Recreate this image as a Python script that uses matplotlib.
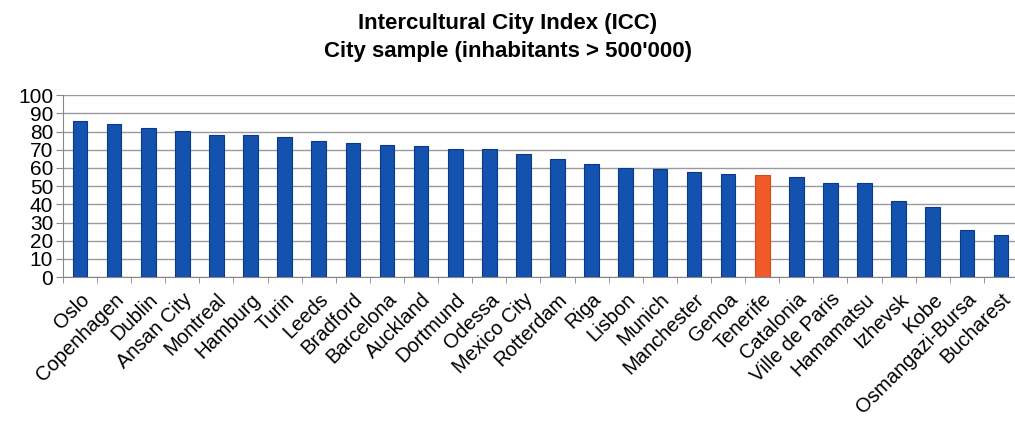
import numpy as np
import matplotlib.pyplot as plt

plt.rcParams['font.family'] = ['Liberation Sans', 'DejaVu Sans']

cities = ['Oslo', 'Copenhagen', 'Dublin', 'Ansan City', 'Montreal', 'Hamburg', 'Turin',
          'Leeds', 'Bradford', 'Barcelona', 'Auckland', 'Dortmund', 'Odessa', 'Mexico City',
          'Rotterdam', 'Riga', 'Lisbon', 'Munich', 'Manchester', 'Genoa', 'Tenerife',
          'Catalonia', 'Ville de Paris', 'Hamamatsu', 'Izhevsk', 'Kobe', 'Osmangazi-Bursa',
          'Bucharest']
icc = [85.7, 83.9, 81.7, 80.2, 78.3, 78.3, 76.9, 75.0, 73.6, 72.7, 72.1, 70.6, 70.3, 67.9,
       65.0, 62.0, 59.8, 59.4, 57.8, 56.7, 56.1, 55.2, 51.9, 51.9, 41.8, 38.5, 26.1, 23.1]
highlight = 'Tenerife'

fig = plt.figure(figsize=(10.15, 4.25), dpi=100)
ax = fig.add_axes([0.062, 0.348, 0.941, 0.428])

x = np.arange(len(cities))
colors = ['#F05A28' if c == highlight else '#1352AE' for c in cities]
edges = ['#D9481C' if c == highlight else '#0A3A85' for c in cities]
ax.bar(x, icc, width=0.43, color=colors, edgecolor=edges, linewidth=0.8, zorder=3)

ax.set_xlim(-0.5, len(cities) - 0.5)
ax.set_ylim(0, 100)
ax.set_yticks(np.arange(0, 101, 10))
ax.yaxis.grid(True, color='#9a9a9a', linewidth=1.0, zorder=0)
ax.tick_params(axis='y', labelsize=15, length=5, color='#888888', pad=2)

ax.set_xticks(x)
ax.set_xticklabels(cities, rotation=45, ha='right', rotation_mode='anchor', fontsize=14.5)
ax.tick_params(axis='x', which='major', length=0, pad=9)
ax.set_xticks(np.arange(-0.5, len(cities), 1), minor=True)
ax.tick_params(axis='x', which='minor', length=4, color='#888888', direction='out')

for side in ['top', 'right']:
    ax.spines[side].set_visible(False)
for side in ['left', 'bottom']:
    ax.spines[side].set_color('#888888')

fig.text(0.5, 0.945, 'Intercultural City Index (ICC)', ha='center', va='center',
         fontsize=16, fontweight='bold')
fig.text(0.5, 0.88, "City sample (inhabitants > 500'000)", ha='center', va='center',
         fontsize=16, fontweight='bold')

fig.savefig('out.png', dpi=100)
